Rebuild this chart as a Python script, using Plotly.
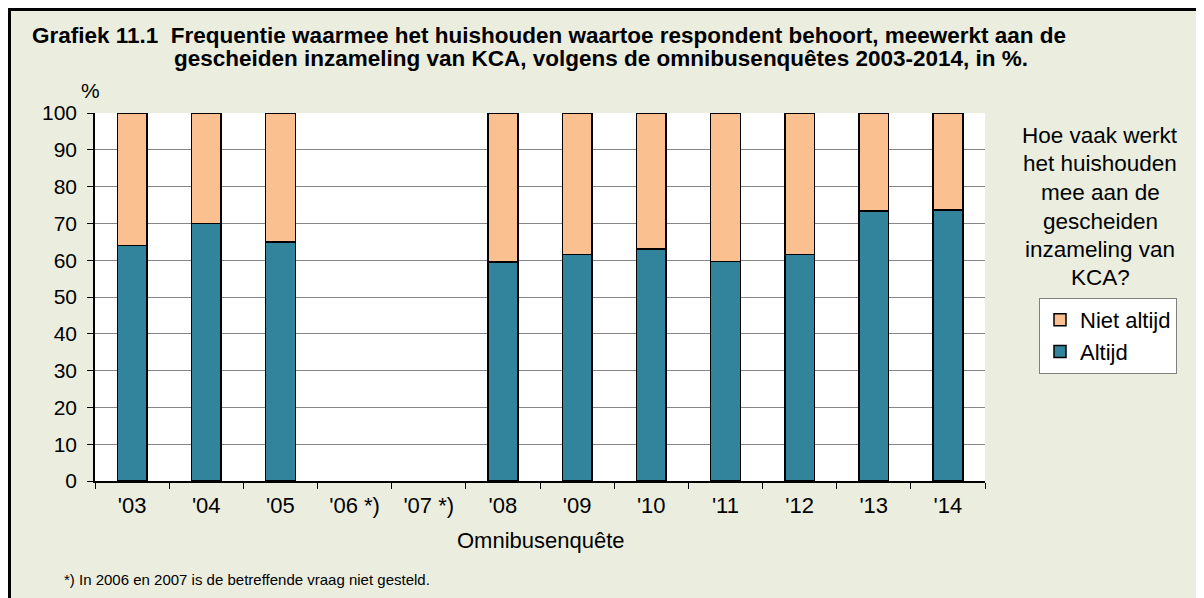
import plotly.graph_objects as go

categories = ["'03", "'04", "'05", "'06 *)", "'07 *)", "'08", "'09", "'10", "'11", "'12", "'13", "'14"]
altijd = [64.0, 70.0, 65.0, None, None, 59.5, 61.5, 63.0, 59.7, 61.5, 73.4, 73.6]
niet_altijd = [None if v is None else round(100 - v, 1) for v in altijd]
y_ticks = list(range(0, 101, 10))
legend_title_lines = ["Hoe vaak werkt", "het huishouden", "mee aan de", "gescheiden", "inzameling van", "KCA?"]

# page coordinates (the page has an 8px body margin)
OFF = 8
PW, PH = 1204, 598
W, H = PW - OFF, PH - OFF
L, R, T, B = 95, 985, 113, 481
pw, ph = R - L, B - T

def px(x):
    return (x - L) / pw

def py(y):
    return (B - y) / ph

FONT = "Liberation Sans, Arial, sans-serif"
BG = "#EBEEDF"

fig = go.Figure()
fig.add_trace(go.Bar(x=categories, y=altijd, name="Altijd",
                     marker=dict(color="#31849B", line=dict(color="#000000", width=1.5))))
fig.add_trace(go.Bar(x=categories, y=niet_altijd, name="Niet altijd",
                     marker=dict(color="#FAC090", line=dict(color="#000000", width=1.5))))

fig.update_layout(
    width=W, height=H,
    barmode="stack", bargap=0.6,
    paper_bgcolor=BG, plot_bgcolor="#FFFFFF",
    margin=dict(l=L - OFF, r=PW - R, t=T - OFF, b=PH - B, pad=0, autoexpand=False),
    font=dict(family=FONT, size=22, color="#000000"),
    showlegend=True,
    legend=dict(x=px(1039), y=py(298), xanchor="left", yanchor="top",
                traceorder="reversed", bgcolor="#FFFFFF", bordercolor="#808080", borderwidth=1,
                font=dict(size=22, family=FONT), itemwidth=30, tracegroupgap=0),
    xaxis=dict(type="category", showgrid=False, ticks="outside", tickson="boundaries",
               ticklen=6, tickcolor="#000000", showline=True, linecolor="#000000", linewidth=1.5,
               tickfont=dict(size=22), automargin=False, ticklabelstandoff=4),
    yaxis=dict(range=[0, 100], tickvals=y_ticks, showgrid=True, gridcolor="#868686", gridwidth=1,
               ticks="outside", ticklen=6, tickcolor="#000000", showline=True, linecolor="#000000",
               linewidth=1.5, tickfont=dict(size=21), zeroline=False, automargin=False,
               ticklabelstandoff=6),
)

ann = [
    dict(text="<b>Grafiek 11.1  Frequentie waarmee het huishouden waartoe respondent behoort, meewerkt aan de</b>",
         x=px(30), y=py(36), xanchor="left", yanchor="middle", font=dict(size=22.5)),
    dict(text="<b>gescheiden inzameling van KCA, volgens de omnibusenquêtes 2003-2014, in %.</b>",
         x=px(172), y=py(59), xanchor="left", yanchor="middle", font=dict(size=22.5)),
    dict(text="%", x=px(90), y=py(90), xanchor="center", yanchor="middle", font=dict(size=21)),
    dict(text="Omnibusenquête", x=px(541), y=py(540), xanchor="center", yanchor="middle", font=dict(size=22)),
    dict(text="*) In 2006 en 2007 is de betreffende vraag niet gesteld.", x=px(62), y=py(579),
         xanchor="left", yanchor="middle", font=dict(size=15)),
]
ys = [135, 163, 192, 221, 249, 277]
for line, yy in zip(legend_title_lines, ys):
    ann.append(dict(text=line, x=px(1100), y=py(yy), xanchor="center", yanchor="middle", font=dict(size=22.5)))
for a in ann:
    a.update(xref="paper", yref="paper", showarrow=False)
fig.update_layout(annotations=ann)

shapes = [
    dict(type="line", x0=px(OFF + 1.5), x1=px(PW + 10), y0=py(OFF + 1.5), y1=py(OFF + 1.5),
         line=dict(color="#000000", width=3)),
    dict(type="line", x0=px(OFF + 1.5), x1=px(OFF + 1.5), y0=py(OFF), y1=py(PH + 10),
         line=dict(color="#000000", width=3)),
]
for s in shapes:
    s.update(xref="paper", yref="paper", layer="above")
fig.update_layout(shapes=shapes)

fig.write_html("out.html")
